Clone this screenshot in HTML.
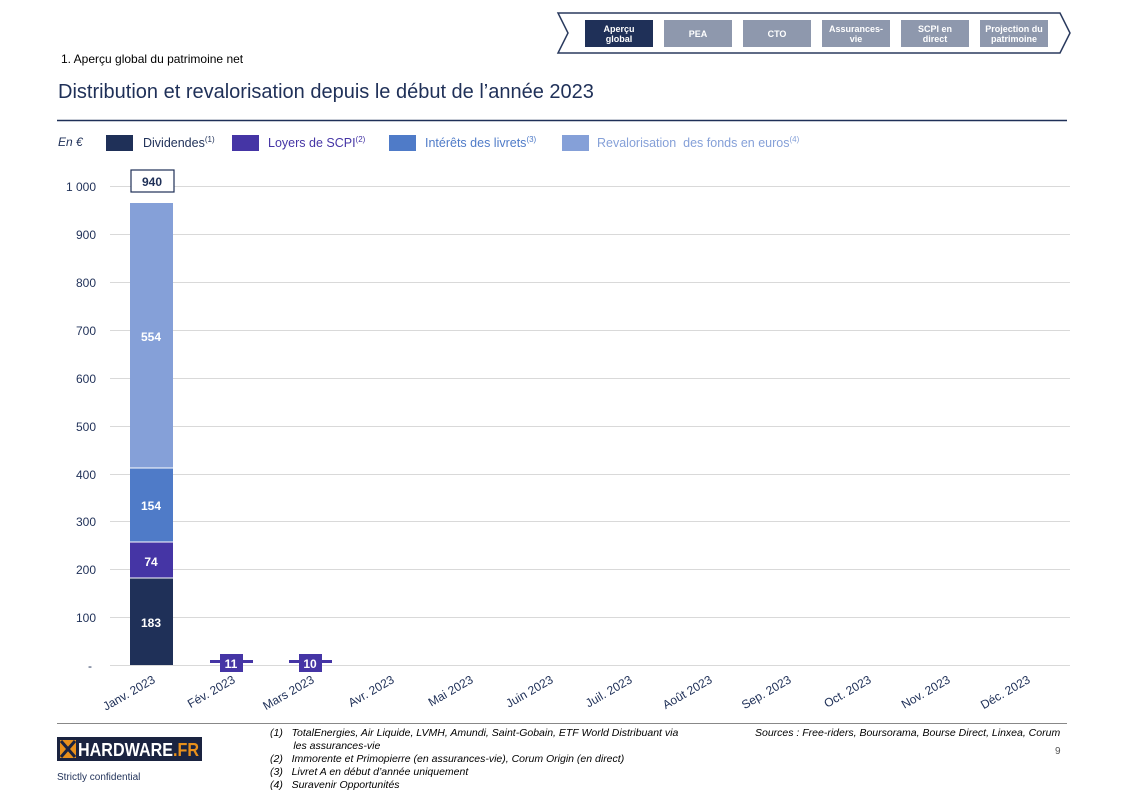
<!DOCTYPE html>
<html><head><meta charset="utf-8"><style>
body{margin:0;width:1123px;height:794px;background:#fff;position:relative;overflow:hidden;font-family:"Liberation Sans",sans-serif;color:#1f3058}
.a{position:absolute;white-space:nowrap}
.nav{position:absolute;top:20px;height:27px;background:#8e98ad;color:#fff;font-size:9px;font-weight:bold;text-align:center;display:flex;align-items:center;justify-content:center;line-height:10px}
</style></head><body>
<svg class="a" style="left:0;top:0" width="1123" height="794">
<polygon points="558,13 1060,13 1070,33 1060,53 558,53 568,33" fill="#fff" stroke="#2a3a5e" stroke-width="1.5"/>
<g stroke="#d9d9d9" stroke-width="1">
<line x1="110" x2="1070" y1="186.5" y2="186.5"/><line x1="110" x2="1070" y1="234.5" y2="234.5"/>
<line x1="110" x2="1070" y1="282.5" y2="282.5"/><line x1="110" x2="1070" y1="330.5" y2="330.5"/>
<line x1="110" x2="1070" y1="378.5" y2="378.5"/><line x1="110" x2="1070" y1="426.5" y2="426.5"/>
<line x1="110" x2="1070" y1="474.5" y2="474.5"/><line x1="110" x2="1070" y1="521.5" y2="521.5"/>
<line x1="110" x2="1070" y1="569.5" y2="569.5"/><line x1="110" x2="1070" y1="617.5" y2="617.5"/>
<line x1="110" x2="1070" y1="665.5" y2="665.5"/>
</g>
<line x1="57" x2="1067" y1="120.5" y2="120.5" stroke="#1f3058" stroke-width="1.5"/>
<line x1="57" x2="1067" y1="723.5" y2="723.5" stroke="#888" stroke-width="1"/>
<rect x="130" y="203" width="43" height="265" fill="#85a0d8"/>
<rect x="130" y="468" width="43" height="74" fill="#4f7bc8"/>
<rect x="130" y="542" width="43" height="36" fill="#4535a5"/>
<rect x="130" y="578" width="43" height="87" fill="#1f3058"/>
<g stroke="#fff" stroke-width="1"><line x1="130" x2="173" y1="468" y2="468"/><line x1="130" x2="173" y1="542" y2="542"/><line x1="130" x2="173" y1="578" y2="578"/></g>
<rect x="210" y="660" width="43" height="3" fill="#4535a5"/>
<rect x="220" y="654" width="23" height="18" fill="#4535a5"/>
<rect x="289" y="660" width="43" height="3" fill="#4535a5"/>
<rect x="299" y="654" width="23" height="18" fill="#4535a5"/>
<rect x="131" y="170" width="43" height="22" fill="#fff" stroke="#1f3058" stroke-width="1.2"/>
<g font-family="Liberation Sans" font-size="12" font-weight="bold" fill="#fff" text-anchor="middle">
<text x="151" y="341">554</text><text x="151" y="510">154</text><text x="151" y="566">74</text><text x="151" y="627">183</text>
<text x="231" y="668">11</text><text x="310" y="668">10</text>
<text x="152" y="186" fill="#1f3058">940</text>
</g>
<g font-family="Liberation Sans" font-size="12" fill="#1f3058" text-anchor="end">
<text x="96" y="191">1 000</text><text x="96" y="239">900</text><text x="96" y="287">800</text><text x="96" y="335">700</text><text x="96" y="383">600</text><text x="96" y="431">500</text><text x="96" y="479">400</text><text x="96" y="526">300</text><text x="96" y="574">200</text><text x="96" y="622">100</text><text x="92" y="670">-</text>
</g>
<g font-family="Liberation Sans" font-size="12" fill="#1f3058" text-anchor="end">
<text transform="translate(156,682) rotate(-30)">Janv. 2023</text>
<text transform="translate(236,682) rotate(-30)">Fév. 2023</text>
<text transform="translate(315,682) rotate(-30)">Mars 2023</text>
<text transform="translate(395,682) rotate(-30)">Avr. 2023</text>
<text transform="translate(474,682) rotate(-30)">Mai 2023</text>
<text transform="translate(554,682) rotate(-30)">Juin 2023</text>
<text transform="translate(633,682) rotate(-30)">Juil. 2023</text>
<text transform="translate(713,682) rotate(-30)">Août 2023</text>
<text transform="translate(792,682) rotate(-30)">Sep. 2023</text>
<text transform="translate(872,682) rotate(-30)">Oct. 2023</text>
<text transform="translate(951,682) rotate(-30)">Nov. 2023</text>
<text transform="translate(1031,682) rotate(-30)">Déc. 2023</text>
</g>
<rect x="106" y="135" width="27" height="16" fill="#1f3058"/>
<rect x="232" y="135" width="27" height="16" fill="#4535a5"/>
<rect x="389" y="135" width="27" height="16" fill="#4f7bc8"/>
<rect x="562" y="135" width="27" height="16" fill="#85a0d8"/>
<rect x="57" y="737" width="145" height="24" fill="#1a2340"/>
<rect x="60" y="740" width="16" height="18" fill="#e8901c"/>
<path d="M61,741 L75,757 M75,741 L61,757" stroke="#1a2340" stroke-width="3"/>
<text x="78" y="756" font-family="Liberation Sans" font-size="18" font-weight="bold" fill="#fff" textLength="121" lengthAdjust="spacingAndGlyphs">HARDWARE<tspan fill="#e8901c">.FR</tspan></text>
</svg>
<div class="nav" style="left:585px;width:68px;background:#1f3058">Aperçu<br>global</div>
<div class="nav" style="left:664px;width:68px">PEA</div>
<div class="nav" style="left:743px;width:68px">CTO</div>
<div class="nav" style="left:822px;width:68px">Assurances-<br>vie</div>
<div class="nav" style="left:901px;width:68px">SCPI en<br>direct</div>
<div class="nav" style="left:980px;width:68px">Projection du<br>patrimoine</div>
<div class="a" style="left:61px;top:52px;font-size:12px;color:#000">1. Aperçu global du patrimoine net</div>
<div class="a" style="left:58px;top:81px;font-size:20px;color:#1f3058">Distribution et revalorisation depuis le début de l’année 2023</div>
<div class="a" style="left:58px;top:135px;font-size:12px;font-style:italic">En €</div>
<div class="a" style="left:143px;top:135px;font-size:12.5px;color:#1f3058">Dividendes<sup style="font-size:8px">(1)</sup></div>
<div class="a" style="left:268px;top:135px;font-size:12.5px;color:#4535a5">Loyers de SCPI<sup style="font-size:8px">(2)</sup></div>
<div class="a" style="left:425px;top:135px;font-size:12.5px;color:#4f7bc8">Intérêts des livrets<sup style="font-size:8px">(3)</sup></div>
<div class="a" style="left:597px;top:135px;font-size:12.5px;color:#85a0d8">Revalorisation &nbsp;des fonds en euros<sup style="font-size:8px">(4)</sup></div>
<div class="a" style="left:57px;top:772px;font-size:10px">Strictly confidential</div>
<div class="a" style="left:270px;top:727px;font-size:10.5px;font-style:italic;color:#000;line-height:13px">
(1)&nbsp;&nbsp;&nbsp;TotalEnergies, Air Liquide, LVMH, Amundi, Saint-Gobain, ETF World Distribuant via<br>
&nbsp;&nbsp;&nbsp;&nbsp;&nbsp;&nbsp;&nbsp;&nbsp;les assurances-vie<br>
(2)&nbsp;&nbsp;&nbsp;Immorente et Primopierre (en assurances-vie), Corum Origin (en direct)<br>
(3)&nbsp;&nbsp;&nbsp;Livret A en début d’année uniquement<br>
(4)&nbsp;&nbsp;&nbsp;Suravenir Opportunités</div>
<div class="a" style="left:755px;top:727px;font-size:10.5px;font-style:italic;color:#000">Sources : Free-riders, Boursorama, Bourse Direct, Linxea, Corum</div>
<div class="a" style="left:1055px;top:746px;font-size:10px;color:#555">9</div>
</body></html>
